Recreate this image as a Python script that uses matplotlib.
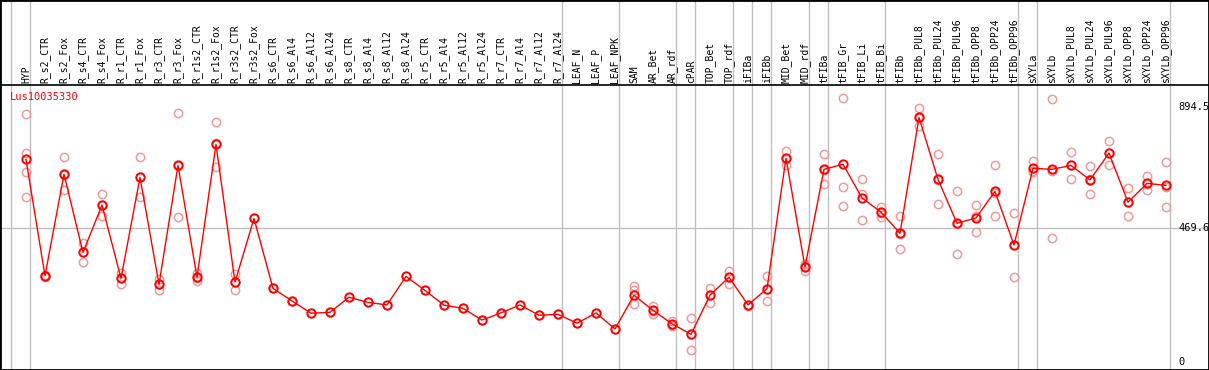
import matplotlib
matplotlib.use("Agg")
from matplotlib import pyplot as plt

# sample names, in plotting order
samples = [
    "HYP", "R_s2_CTR", "R_s2_Fox", "R_s4_CTR", "R_s4_Fox", "R_r1_CTR", "R_r1_Fox",
    "R_r3_CTR", "R_r3_Fox", "R_r1s2_CTR", "R_r1s2_Fox", "R_r3s2_CTR", "R_r3s2_Fox",
    "R_s6_CTR", "R_s6_Al4", "R_s6_Al12", "R_s6_Al24", "R_s8_CTR", "R_s8_Al4",
    "R_s8_Al12", "R_s8_Al24", "R_r5_CTR", "R_r5_Al4", "R_r5_Al12", "R_r5_Al24",
    "R_r7_CTR", "R_r7_Al4", "R_r7_Al12", "R_r7_Al24", "LEAF_N", "LEAF_P", "LEAF_NPK",
    "SAM", "AR_Bet", "AR_rdf", "cPAR", "TOP_Bet", "TOP_rdf", "iFIBa", "iFIBb",
    "MID_Bet", "MID_rdf", "tFIBa", "tFIB_Gr", "tFIB_Li", "tFIB_Bi", "tFIBb",
    "tFIBb_PUL8", "tFIBb_PUL24", "tFIBb_PUL96", "tFIBb_OPP8", "tFIBb_OPP24",
    "tFIBb_OPP96", "sXYLa", "sXYLb", "sXYLb_PUL8", "sXYLb_PUL24", "sXYLb_PUL96",
    "sXYLb_OPP8", "sXYLb_OPP24", "sXYLb_OPP96",
]

# mean expression per sample
means = [
    710, 302, 658, 384, 550, 293, 647, 272, 689, 297, 763, 280, 503,
    258, 214, 171, 174, 227, 209, 200, 300, 251, 199, 188, 147,
    172, 200, 164, 167, 136, 172, 116,
    234, 181, 134, 97, 234, 297, 200, 257, 714, 333, 675,
    693, 575, 525, 451, 857, 640, 486, 505, 598, 410,
    679, 675, 689, 638, 732, 560, 626, 619,
]

# individual replicates
replicates = [
    [868, 733, 665, 577], [300, 305, 298], [717, 602, 655], [416, 352, 384],
    [588, 511, 550], [311, 273, 295], [717, 577, 647], [291, 251, 274],
    [873, 507, 687], [311, 284, 296], [840, 682, 767], [307, 251, 282],
    [503], [258], [214], [171], [174], [227], [209], [200], [300], [251],
    [199], [188], [147], [172], [200], [164], [167], [136], [172], [116],
    [266, 252, 202], [196, 167, 180], [145, 130, 127], [153, 41, 97],
    [258, 208, 236], [319, 275, 297], [200, 198], [301, 214, 256],
    [739, 690, 713], [342, 319, 338], [728, 623, 674], [924, 612, 546],
    [640, 590, 497], [544, 509, 522], [511, 395, 447], [889, 827, 855],
    [728, 553, 639], [598, 377, 483], [549, 454, 512], [689, 511, 594],
    [521, 298, 411], [703, 668, 666], [922, 433, 670], [735, 640, 692],
    [686, 588, 640], [773, 689, 734], [609, 511, 560], [651, 602, 625],
    [700, 542, 615],
]

# group separators sit just right of these sample indices
group_ends = [-1, 0, 28, 31, 34, 35, 37, 38, 39, 41, 42, 45, 52, 53, 60]

gene = "Lus10035330"
y_mid, y_max = 469.6, 894.5

# pixel layout: x_px = 26 + 19*i, y_px = 362 - value/3.5045
PX_X0, PX_DX = 26, 19
PX_Y0, PX_DY = 362, 469.6 / 134


def px_to_x(px):
    return (px - PX_X0) / PX_DX


def px_to_y(py):
    return (PX_Y0 - py) * PX_DY


def main():
    fig = plt.figure(figsize=(12.09, 3.70), dpi=100)
    ax = fig.add_axes([0, 0, 1, 1])
    ax.set_xlim(px_to_x(0), px_to_x(1209))
    ax.set_ylim(px_to_y(370), px_to_y(0))
    ax.set_xticks([])
    ax.set_yticks([])
    for sp in ax.spines.values():
        sp.set_linewidth(2)
        sp.set_color("black")

    font = "DejaVu Sans Mono"
    top = px_to_y(85)

    # separators and midline
    for g in group_ends:
        ax.axvline(g + 0.2, color="#c0c0c0", lw=1, zorder=1)
    ax.plot([px_to_x(0), px_to_x(1209)], [y_mid, y_mid], color="#c0c0c0", lw=1, zorder=1)
    ax.axhline(top, color="black", lw=1.2, zorder=2)

    # sample labels
    for i, name in enumerate(samples):
        ax.text(i, px_to_y(83), name, rotation=90, ha="center", va="bottom",
                fontsize=7, family=font, color="black")

    # replicates
    for i, reps in enumerate(replicates):
        ax.plot([i] * len(reps), reps, "o", ms=6, mfc="none", mec="#f09a9a",
                mew=1.1, zorder=3)

    # mean line
    xs = list(range(len(samples)))
    ax.plot(xs, means, "-", color="red", lw=1, zorder=4)
    ax.plot(xs, means, "o", ms=6, mfc="none", mec="red", mew=1.4, zorder=5)

    ax.text(px_to_x(10), px_to_y(97), gene, color="red", fontsize=7.5,
            family=font, ha="left", va="center")
    for val, lab in [(y_max, "894.5"), (y_mid, "469.6"), (0, "0")]:
        ax.text(px_to_x(1178), val, lab, fontsize=7.5, family=font,
                ha="left", va="center", color="black")

    fig.savefig("out.png", dpi=100)


if __name__ == "__main__":
    main()
